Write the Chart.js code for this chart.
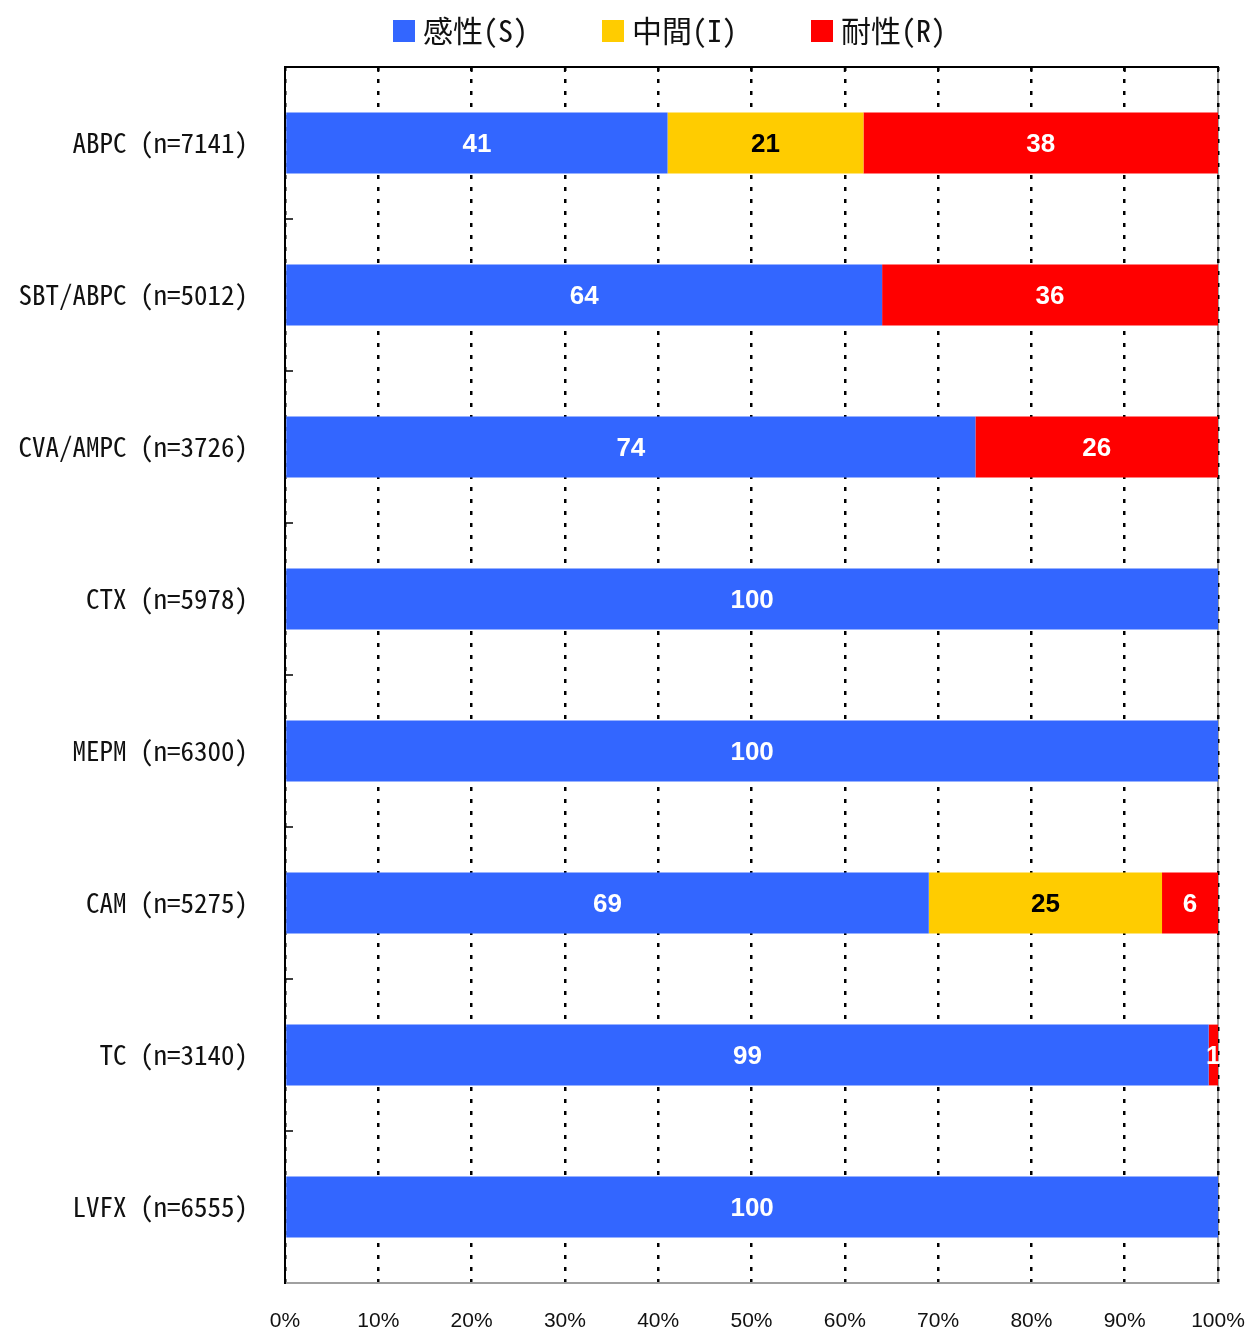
<!DOCTYPE html>
<html>
<head>
<meta charset="utf-8">
<script src="https://cdn.jsdelivr.net/npm/chart.js@4.4.1/dist/chart.umd.min.js"></script>
<style>
  html, body { margin: 0; padding: 0; background: #fff; }
  #wrap { width: 1247px; height: 1332px; }
</style>
</head>
<body>
<div id="wrap"><canvas id="chart"></canvas></div>
<script>
// 薬剤ごとの感受性率 (%)
var drugs = [
  'ABPC (n=7141)',
  'SBT/ABPC (n=5012)',
  'CVA/AMPC (n=3726)',
  'CTX (n=5978)',
  'MEPM (n=6300)',
  'CAM (n=5275)',
  'TC (n=3140)',
  'LVFX (n=6555)'
];
var seriesNames = ['感性(S)', '中間(I)', '耐性(R)'];
var susceptible  = [41, 64, 74, 100, 100, 69, 99, 100];
var intermediate = [21, 0, 0, 0, 0, 25, 0, 0];
var resistant    = [38, 36, 26, 0, 0, 6, 1, 0];
var xTicks = [0, 10, 20, 30, 40, 50, 60, 70, 80, 90, 100];

var barColors   = ['#3366FF', '#FFCC00', '#FF0000'];
var valueColors = ['#FFFFFF', '#000000', '#FFFFFF'];

// 縦軸ラベル用の等幅フォント (あれば CJK 等幅を使う)
function pickLabelFont() {
  var c = document.createElement('canvas').getContext('2d');
  var s = 'ABPC (n=7141)';
  c.font = '27px serif';
  var w0 = c.measureText(s).width;
  c.font = '27px "Noto Sans Mono CJK JP", serif';
  var w1 = c.measureText(s).width;
  if (Math.abs(w1 - w0) > 0.5) return { family: '"Noto Sans Mono CJK JP"', size: 27, cjk: true };
  return { family: '"DejaVu Sans Mono"', size: 23, cjk: false };
}
var labelFont = pickLabelFont();

// 棒の中央に数値を描く
var valueLabels = {
  id: 'valueLabels',
  afterDatasetsDraw: function(chart) {
    var ctx = chart.ctx;
    ctx.save();
    ctx.font = 'bold 26px "Liberation Sans", Arial, sans-serif';
    ctx.textAlign = 'center';
    ctx.textBaseline = 'middle';
    chart.data.datasets.forEach(function(ds, di) {
      var meta = chart.getDatasetMeta(di);
      ctx.fillStyle = valueColors[di];
      meta.data.forEach(function(el, i) {
        var v = ds.data[i];
        if (!v) return;
        var p = el.getProps(['x', 'y', 'base'], true);
        ctx.fillText(String(v), (p.x + p.base) / 2, p.y + 2);
      });
    });
    ctx.restore();
  }
};

// 凡例 (上部)
var topLegend = {
  id: 'topLegend',
  afterDraw: function(chart) {
    var ctx = chart.ctx;
    var x = 393, cy = 31, box = 22, gap = 8, pitch = 209;
    ctx.save();
    ctx.font = labelFont.cjk ? '30px "Noto Sans Mono CJK JP"' : '30px "Noto Sans CJK JP", sans-serif';
    ctx.textBaseline = 'middle';
    ctx.textAlign = 'left';
    chart.data.datasets.forEach(function(ds) {
      ctx.fillStyle = ds.backgroundColor;
      ctx.fillRect(x, cy - box / 2, box, box);
      ctx.fillStyle = '#111';
      ctx.fillText(ds.label, x + box + gap, cy);
      x += pitch;
    });
    ctx.restore();
  }
};

// 枠線と目盛り
var frame = {
  id: 'frame',
  beforeDraw: function(chart) {
    var a = chart.chartArea, ctx = chart.ctx;
    ctx.save();
    ctx.strokeStyle = '#a0a0a0';
    ctx.lineWidth = 2;
    ctx.beginPath();
    ctx.moveTo(a.right, a.top);
    ctx.lineTo(a.right, a.bottom);
    ctx.stroke();
    ctx.restore();
  },
  afterDraw: function(chart) {
    var a = chart.chartArea, ctx = chart.ctx;
    var xs = chart.scales.x, ys = chart.scales.y;
    ctx.save();
    ctx.strokeStyle = '#000';
    ctx.lineWidth = 2;
    ctx.beginPath();
    ctx.moveTo(a.left - 1, a.top);
    ctx.lineTo(a.right + 1, a.top);
    ctx.stroke();
    ctx.beginPath();
    xTicks.forEach(function(t) {
      var px = xs.getPixelForValue(t);
      ctx.moveTo(px, a.top);
      ctx.lineTo(px, a.top + 5);
    });
    ctx.stroke();
    ctx.lineWidth = 1.5;
    ctx.beginPath();
    for (var i = 0; i < drugs.length - 1; i++) {
      var py = (ys.getPixelForValue(i) + ys.getPixelForValue(i + 1)) / 2;
      ctx.moveTo(a.left, py);
      ctx.lineTo(a.left + 8, py);
    }
    ctx.stroke();
    ctx.restore();
  }
};

var datasets = [susceptible, intermediate, resistant].map(function(vals, i) {
  return {
    label: seriesNames[i],
    data: vals,
    backgroundColor: barColors[i],
    borderWidth: 0,
    categoryPercentage: 1,
    barPercentage: 0.4
  };
});

new Chart(document.getElementById('chart'), {
  type: 'bar',
  data: { labels: drugs, datasets: datasets },
  options: {
    indexAxis: 'y',
    responsive: true,
    maintainAspectRatio: false,
    animation: false,
    layout: { padding: { top: 67, left: 0, right: 0, bottom: 0 } },
    plugins: {
      legend: { display: false },
      tooltip: { enabled: false }
    },
    scales: {
      x: {
        stacked: true,
        min: 0,
        max: 100,
        afterBuildTicks: function(s) {
          s.ticks = xTicks.map(function(v) { return { value: v }; });
        },
        afterFit: function(s) {
          s.height = 49;
          s.paddingLeft = 0;
          s.paddingRight = 29;
        },
        grid: { color: '#000', lineWidth: 2.5, drawTicks: false },
        border: { display: true, color: '#a0a0a0', width: 2, dash: [4, 8] },
        ticks: {
          padding: 26,
          color: '#111',
          maxRotation: 0,
          font: { family: '"Liberation Sans", Arial, sans-serif', size: 21 },
          callback: function(v) { return v + '%'; }
        }
      },
      y: {
        stacked: true,
        afterFit: function(s) {
          s.width = 285;
          s.paddingTop = 0;
          s.paddingBottom = 0;
        },
        grid: { display: false, drawTicks: false },
        border: { display: true, color: '#000', width: 2, z: 1 },
        ticks: {
          padding: 37,
          color: '#111',
          font: { family: labelFont.family, size: labelFont.size }
        }
      }
    }
  },
  plugins: [frame, valueLabels, topLegend]
});
</script>
</body>
</html>
